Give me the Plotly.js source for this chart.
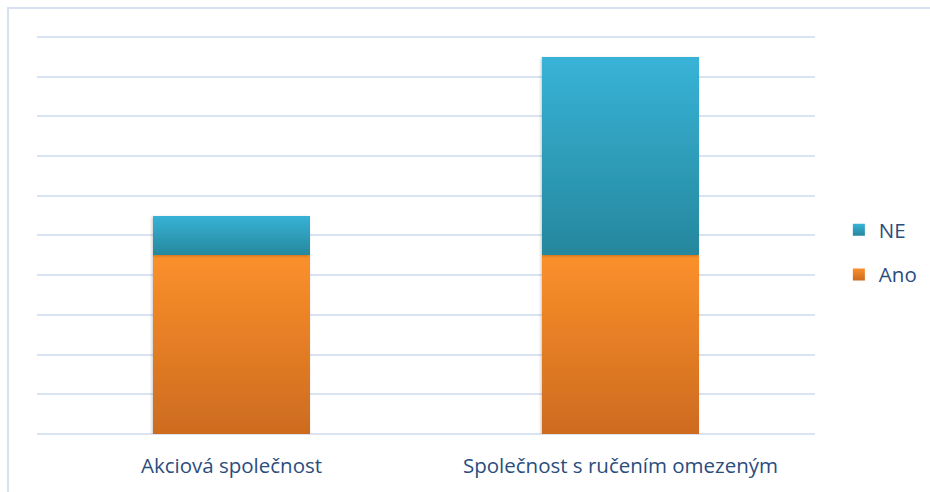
<!DOCTYPE html>
<html>
<head>
<meta charset="utf-8">
<script src="https://cdn.plot.ly/plotly-3.0.1.min.js"></script>
<style>
  html, body { margin: 0; padding: 0; background: #ffffff; }
  #chart { width: 930px; height: 492px; }
</style>
</head>
<body>
<div id="chart"></div>
<script>
// Legal form of the company, split by answer
const categories = ['Akciová společnost', 'Společnost s ručením omezeným'];
const seriesNames = ['Ano', 'NE'];
const anoValues = [9, 9];
const neValues = [2, 10];

const textColor = '#2A4D7E';
const gridColor = '#D9E3F1';

// Top-to-bottom gradient stops for each series
const gradients = {
  Ano: ['#FB902B', '#CD6B1F'],
  NE: ['#38B3D7', '#25879D']
};
const baseColors = { Ano: '#F07F25', NE: '#2F9FBF' };

const traces = [
  {
    type: 'bar', name: seriesNames[0], x: categories, y: anoValues,
    marker: { color: baseColors.Ano, line: { width: 0 } },
    legendgroup: 'g0', legendrank: 2, hoverinfo: 'x+y+name'
  },
  {
    type: 'bar', name: seriesNames[1], x: categories, y: neValues,
    marker: { color: baseColors.NE, line: { width: 0 } },
    legendgroup: 'g1', legendrank: 1, hoverinfo: 'x+y+name'
  }
];

const layout = {
  width: 930, height: 492,
  margin: { l: 37, r: 115, t: 27, b: 58 },
  paper_bgcolor: '#ffffff', plot_bgcolor: '#ffffff',
  barmode: 'stack', bargap: 0.597,
  font: { family: '"Open Sans", sans-serif', color: textColor, size: 20.5 },
  xaxis: {
    showgrid: false, zeroline: false, showline: false, ticks: '',
    tickfont: { size: 20.5, color: textColor },
    ticklabelstandoff: 17
  },
  yaxis: {
    range: [0, 20.5], tick0: 0, dtick: 2, showticklabels: false,
    showgrid: true, gridcolor: gridColor, gridwidth: 2,
    zeroline: true, zerolinecolor: gridColor, zerolinewidth: 2,
    showline: false, ticks: ''
  },
  showlegend: true,
  legend: {
    xref: 'container', yref: 'container',
    x: 0.902, xanchor: 'left', y: 0.4868, yanchor: 'middle',
    traceorder: 'grouped', tracegroupgap: 15,
    font: { size: 20.5, color: textColor },
    bgcolor: 'rgba(0,0,0,0)', borderwidth: 0
  },
  shapes: [{
    type: 'rect', xref: 'paper', yref: 'paper',
    x0: -0.0373, x1: 1.3, y0: -0.3, y1: 1.0464,
    line: { color: '#D6E2F2', width: 2 }, fillcolor: 'rgba(0,0,0,0)', layer: 'below'
  }]
};

function addGradients(gd) {
  const ns = 'http://www.w3.org/2000/svg';
  const svg = gd.querySelector('svg.main-svg');
  let defs = svg.querySelector('defs');
  if (!defs) { defs = document.createElementNS(ns, 'defs'); svg.insertBefore(defs, svg.firstChild); }
  Object.keys(gradients).forEach(function (name) {
    const lg = document.createElementNS(ns, 'linearGradient');
    lg.setAttribute('id', 'fill-' + name);
    lg.setAttribute('x1', '0'); lg.setAttribute('y1', '0');
    lg.setAttribute('x2', '0'); lg.setAttribute('y2', '1');
    gradients[name].forEach(function (c, i) {
      const st = document.createElementNS(ns, 'stop');
      st.setAttribute('offset', i === 0 ? '0' : '1');
      st.setAttribute('stop-color', c);
      lg.appendChild(st);
    });
    defs.appendChild(lg);
  });
  const f = document.createElementNS(ns, 'filter');
  f.setAttribute('id', 'bar-shadow');
  f.setAttribute('x', '-10%'); f.setAttribute('y', '-10%');
  f.setAttribute('width', '120%'); f.setAttribute('height', '120%');
  const sh = document.createElementNS(ns, 'feDropShadow');
  sh.setAttribute('dx', '-1'); sh.setAttribute('dy', '1');
  sh.setAttribute('stdDeviation', '1.5');
  sh.setAttribute('flood-color', '#000'); sh.setAttribute('flood-opacity', '0.22');
  f.appendChild(sh);
  defs.appendChild(f);

  gd.querySelectorAll('.barlayer .trace').forEach(function (tr) {
    const t = tr.__data__ && tr.__data__[0] && tr.__data__[0].trace;
    if (!t) return;
    tr.querySelectorAll('path').forEach(function (p) {
      p.style.fill = 'url(#fill-' + t.name + ')';
      p.style.filter = 'url(#bar-shadow)';
    });
  });
  gd.querySelectorAll('.legend .traces').forEach(function (tr) {
    const d = tr.__data__;
    const t = d && d[0] && (d[0].trace || (d[0][0] && d[0][0].trace));
    if (!t) return;
    tr.querySelectorAll('.legendpoints path').forEach(function (p) {
      p.style.fill = 'url(#fill-' + t.name + ')';
    });
  });
}

Plotly.newPlot('chart', traces, layout, { staticPlot: true, displayModeBar: false })
  .then(addGradients);
</script>
</body>
</html>
